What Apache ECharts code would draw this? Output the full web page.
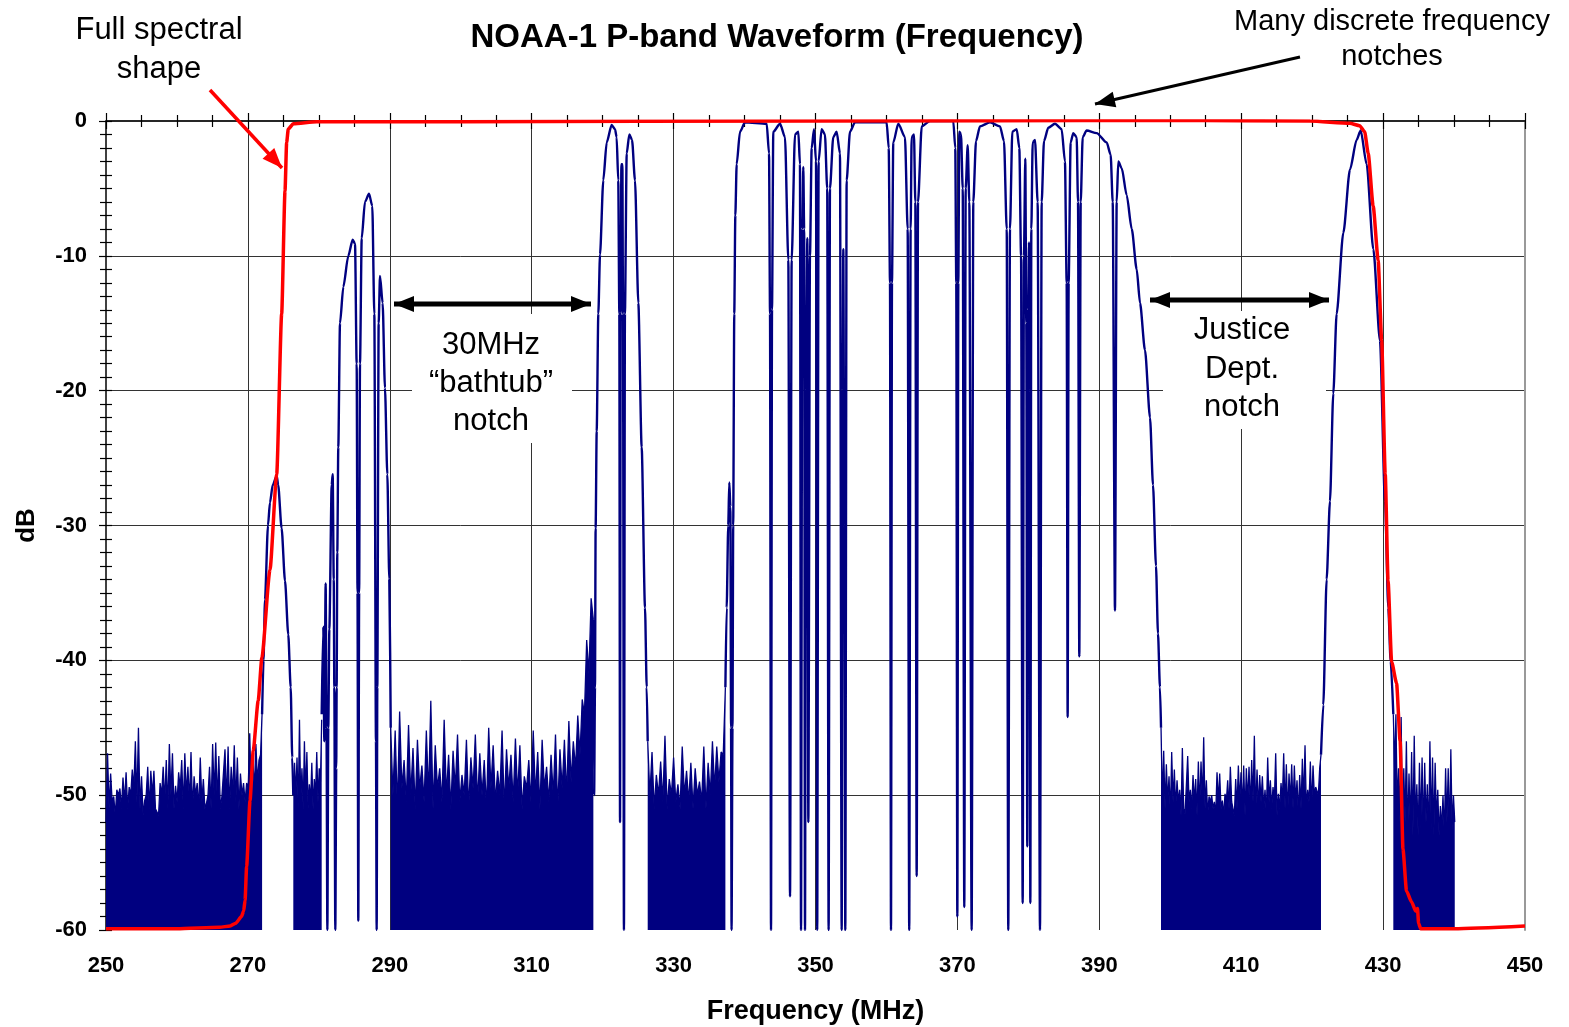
<!DOCTYPE html>
<html>
<head>
<meta charset="utf-8">
<title>NOAA-1 P-band Waveform (Frequency)</title>
<script src="https://cdn.jsdelivr.net/npm/echarts@6/dist/echarts.min.js"></script>
<style>
  html, body { margin: 0; padding: 0; background: #fff; }
  #chart { width: 1569px; height: 1027px; }
</style>
</head>
<body>
<div id="chart"></div>
<script>
// --- data: frequency in MHz, level in dB ---

// noise floor bands: [start, end] MHz and the envelope levels across each band
const band1 = [250.0, 272.0];
const noise1 = [-52, -46.9, -51, -48.4, -50.5, -50.1, -51.5, -49.6, -50, -49.5, -51, -48.7, -50.5, -48.3, -51, -49.4,
  -50, -48.1, -49.5, -46.0, -50.5, -45.0, -51, -48.6, -51.5, -50.4, -50, -47.9, -51, -48.2, -50, -48.2, -51, -51.1,
  -51.5, -49.1, -50, -47.9, -50.5, -47.4, -51, -46.2, -50, -46.9, -51, -49.3, -50.5, -48.3, -49.5, -47.4, -51, -46.9,
  -50, -47.9, -50.5, -46.8, -51, -48.6, -50, -49.1, -51, -47.2, -50.5, -48.8, -51, -50.6, -50, -47.9, -51, -46.2, -50,
  -46.1, -50.5, -47.1, -51, -50.1, -50, -46.6, -50.5, -46.4, -51, -47.9, -50, -46.3, -50.5, -47.2, -51, -48.4, -50,
  -49.1, -50.5, -49.1, -49.5, -45.4, -50, -47.4, -49.5, -46.2, -49, -47.4, -47, -43.9];

const band2 = [276.4, 280.4];
const noise2 = [-50, -47.6, -50, -47.2, -51, -44.4, -50.5, -48, -51, -46, -50, -46.8, -51, -49.2, -50.5, -47.6, -51,
  -48.8, -50, -46.8, -50.5, -48, -49, -44.4];

const band3 = [290.13, 318.69];
const noise3 = [-45, -50, -45.2, -51, -43.8, -49.5, -47.4, -50.5, -44.8, -50, -46.5, -51, -45.9, -49.5, -47.8, -50.5,
  -45.2, -50, -43.0, -51, -46.3, -49.5, -48.0, -50.5, -44.4, -50, -47.0, -51, -46.7, -49.5, -45.5, -50.5, -48.5, -50,
  -45.9, -51, -47.2, -49.5, -45.5, -50.5, -46.9, -50, -47.4, -51, -45.0, -49.5, -46.3, -50.5, -48.2, -50, -45.2, -51,
  -46.6, -49.5, -47.0, -50.5, -45.8, -50, -46.3, -51, -48.6, -49.5, -47.4, -50.5, -45.2, -50, -46.8, -51, -45.9, -49.5,
  -47.9, -50.5, -47.0, -50, -45.5, -51, -46.6, -49.5, -45.9, -50, -44.5, -49, -46.0, -48, -44.1, -47, -42.9, -44,
  -38.5, -41, -35.4, -37];

const band4 = [326.35, 337.3];
const noise4 = [-46, -50, -46.8, -51, -48.5, -50, -47.5, -50.5, -45.6, -51, -48.8, -50, -47.2, -50.5, -49.2, -51,
  -46.4, -50, -48.2, -50.5, -47.6, -51, -48.0, -50, -49.0, -50.5, -46.4, -51, -47.6, -50, -46.0, -49.5, -46.4, -49,
  -46.8, -47, -42];

const band5 = [398.7, 421.25];
const noise5 = [-45, -50.5, -46.7, -51, -47.7, -50.5, -48.6, -51.5, -46.8, -50.5, -48.1, -51, -48.9, -50.5, -49.6,
  -51.5, -46.5, -51, -51.4, -51.5, -47.1, -50.5, -49.6, -51, -48.5, -50.5, -48.8, -51.5, -47.5, -51, -47.5, -50.5,
  -45.7, -51, -48.9, -51.5, -50.1, -50.5, -50.0, -51, -50.5, -51.5, -48.3, -50.5, -48.4, -51, -50.4, -51.5, -49.9,
  -50.5, -48.9, -51, -47.9, -50.5, -50.4, -51.5, -48.8, -51, -47.8, -50.5, -48.3, -51, -47.8, -51.5, -48.0, -50.5,
  -47.9, -51, -47.4, -50.5, -45.6, -51.5, -48.1, -51, -48.5, -50.5, -48.6, -51, -49.6, -51.5, -47.2, -50.5, -48.9,
  -51, -49.4, -50.5, -46.9, -51.5, -49.9, -51, -49.1, -50.5, -46.9, -51, -47.7, -51.5, -48.4, -50.5, -47.7, -51,
  -47.8, -50.5, -48.9, -51.5, -48.5, -51, -47.3, -50.5, -46.3, -51, -49.6, -50.5, -47.5, -51, -47.8, -50, -49.4,
  -49.5, -50.0, -48, -47];

const band6 = [431.44, 440.1];
const noise6 = [-44, -48, -44.0, -51, -48.0, -52, -44.2, -53, -48.0, -52, -46.0, -53, -48.4, -52.5, -46.8, -53, -45.6,
  -52, -49.2, -53, -47.6, -52.5, -47.2, -53, -47.6, -52, -49.2, -53, -46.0, -52.5, -47.2, -53, -47.6, -52, -49.6,
  -53, -50.8, -52.5, -50.0, -53, -48.0, -52, -48.0, -53, -46.6, -52.5, -50.0, -52];

// signal lobes between the noise bands: [MHz, dB]
const lobeA = [[272.0, -44], [272.2, -40], [272.41, -35.5], [272.83, -30], [273.11, -28.3], [273.5, -27],
  [274.06, -26.3], [274.27, -27], [274.75, -30.2], [275.23, -34.1], [275.69, -38.1], [276.03, -42], [276.25, -47.2],
  [276.4, -50]];

const lobeB = [[280.4, -44], [280.63, -37.5], [280.77, -46], [280.96, -34.3], [281.08, -45], [281.2, -60],
  [281.33, -45], [281.48, -37.7], [281.81, -27], [281.95, -26.2], [282.1, -34], [282.18, -42], [282.32, -60],
  [282.45, -48], [282.51, -42], [282.6, -32], [282.74, -24.2], [282.98, -15], [283.45, -12.3], [284.15, -10],
  [284.77, -8.8], [285.1, -9.1], [285.33, -18], [285.45, -35], [285.56, -59.3], [285.68, -35], [285.8, -18],
  [286.04, -8.7], [286.5, -6], [287.07, -5.4], [287.53, -6.3], [287.82, -14.3], [288.05, -46], [288.15, -60],
  [288.24, -42], [288.43, -15], [288.62, -11.5], [288.99, -13.5], [289.32, -19.8], [289.65, -26.2], [289.93, -34],
  [290.13, -45]];

const lobeC = [[318.69, -37], [318.8, -50], [318.92, -42], [319.01, -30.2], [319.16, -23], [319.39, -14.3],
  [319.63, -9.9], [320.09, -4.4], [320.57, -1.6], [321.27, -0.3], [321.74, -0.6], [321.97, -1.2], [322.2, -4.4],
  [322.35, -14.3], [322.45, -52], [322.54, -14.3], [322.64, -3.2], [322.78, -3.2], [322.87, -14.3], [323.0, -60],
  [323.14, -14.3], [323.39, -2.4], [323.76, -1.0], [324.14, -1.4], [324.56, -4.4], [325.03, -13.5], [325.5, -24.2],
  [325.97, -36.1], [326.21, -42], [326.35, -46]];

const lobeD = [[337.3, -42], [337.48, -36.1], [337.7, -30], [337.85, -26.8], [338.0, -28.6], [338.1, -45],
  [338.17, -60], [338.3, -45], [338.4, -30], [338.55, -14.3], [338.7, -7], [338.89, -3.2], [339.36, -0.8],
  [340.06, -0.1], [343.12, -0.2], [343.45, -2.4], [343.59, -14.3], [343.73, -60], [343.87, -14], [344.05, -0.8],
  [345.0, -0.2], [345.7, -1.2], [346.17, -10.3], [346.41, -57.5], [346.64, -10.3], [347.11, -1], [347.58, -0.8],
  [347.81, -3.2], [347.96, -60], [348.14, -8], [348.28, -3.4], [348.4, -8], [348.52, -60], [348.66, -20],
  [348.85, -8.7], [348.99, -52], [349.22, -10], [349.46, -2], [349.79, -0.6], [350.07, -3], [350.24, -60],
  [350.44, -3], [350.86, -0.6], [351.33, -1.0], [351.65, -5], [351.85, -60], [352.04, -5], [352.5, -1.2],
  [352.98, -0.8], [353.45, -2.4], [353.69, -60], [353.83, -20], [353.92, -9.5], [354.06, -30], [354.2, -60],
  [354.39, -4.4], [354.86, -0.8], [355.57, -0.1], [360.03, -0.1], [360.32, -2], [360.5, -12], [360.64, -60],
  [360.78, -12], [360.96, -1.6], [361.67, -0.2], [362.61, -1.2], [362.99, -8], [363.21, -60], [363.41, -8],
  [363.55, -1.2], [363.88, -1], [364.07, -6], [364.26, -56], [364.45, -6], [364.97, -0.4], [366.14, 0], [369.42, 0],
  [369.7, -2], [369.84, -12], [369.99, -59], [370.13, -12], [370.27, -0.8], [370.51, -1.0], [370.75, -5],
  [370.97, -58.3], [371.17, -5], [371.45, -1.8], [371.68, -6], [372.01, -60], [372.24, -6], [372.62, -1.5],
  [373.18, -0.4], [374.59, -0.1], [376.0, -0.4], [376.57, -1.5], [376.95, -8], [377.17, -60], [377.41, -8],
  [377.74, -0.8], [378.36, -0.6], [378.73, -2], [378.97, -10], [379.2, -58], [379.38, -10], [379.57, -2.8],
  [379.71, -15], [379.85, -53.8], [379.99, -14], [380.09, -9], [380.18, -20], [380.28, -58], [380.42, -8],
  [380.61, -1.6], [380.94, -1.4], [381.31, -6], [381.64, -60], [381.88, -6], [382.2, -1.5], [382.81, -0.5],
  [383.75, -0.2], [384.69, -0.6], [385.16, -3], [385.4, -12], [385.54, -44.2], [385.68, -12], [385.96, -1.6],
  [386.33, -0.9], [386.81, -1.2], [387.0, -6], [387.18, -39.7], [387.38, -6], [387.66, -1.2], [388.22, -0.7],
  [389.63, -0.9], [391.04, -1.6], [391.6, -2.5], [391.89, -6], [392.21, -36.3], [392.45, -6], [392.68, -3.0],
  [393.16, -3.5], [393.86, -5.5], [394.57, -8], [395.27, -11], [395.74, -13.5], [396.44, -17], [397.15, -22],
  [397.57, -27], [397.99, -33], [398.27, -38], [398.55, -42], [398.7, -45]];

const lobeE = [[421.25, -47], [421.57, -43.3], [422.04, -34], [422.51, -28.2], [422.98, -20.2], [423.45, -14.3],
  [424.39, -8.3], [425.33, -3.6], [426.27, -1.4], [426.84, -0.7], [427.68, -3.2], [428.62, -9.5], [429.56, -16.3],
  [430.27, -28.2], [430.73, -36.1], [431.07, -40.1], [431.44, -44]];

// full spectral shape (red)
const spectralShape = [[250, -59.9], [260, -59.9], [266, -59.8], [267.5, -59.7], [268.3, -59.5], [269.1, -59.0],
  [269.4, -58.6], [269.6, -57.8], [269.82, -55.3], [270.3, -50.4], [270.75, -46.7], [271.45, -43], [271.97, -39.8],
  [273.11, -33.3], [274.06, -26.2], [274.76, -14.3], [275.23, -5.2], [275.46, -1.6], [275.69, -0.6], [276.4, -0.2],
  [279.7, -0.05], [300, -0.05], [350, 0], [400, 0.05], [419.7, 0], [425.3, -0.17], [426.7, -0.35], [427.4, -0.8],
  [427.9, -2.4], [428.6, -6.3], [429.3, -10.3], [429.8, -16.3], [430.3, -26.2], [430.7, -34.1], [431.2, -40.1],
  [431.9, -41.7], [432.4, -46], [432.8, -54], [433.3, -57.1], [434.0, -57.9], [434.6, -58.6], [434.85, -58.4],
  [435.0, -59.5], [435.3, -59.9], [440, -59.9], [450, -59.7]];

const FONT = '"Liberation Sans", Arial, sans-serif';
const NAVY = '#000080';

function bandPoints(range, values) {
  const step = (range[1] - range[0]) / (values.length - 1);
  return values.map((v, i) => [range[0] + i * step, v]);
}

function trace(data) {
  return {
    type: 'line', data: data, symbol: 'none', showSymbol: false, animation: false, z: 2,
    smooth: 0.25, smoothMonotone: 'x',
    lineStyle: { color: NAVY, width: 2.4 }
  };
}

function noise(range, values) {
  const s = trace(bandPoints(range, values));
  s.smooth = false;
  s.lineStyle = { color: NAVY, width: 1.3 };
  s.areaStyle = { color: NAVY, opacity: 1, origin: 'start' };
  return s;
}

// annotation arrows, pixel coords
function arrowHead(tx, ty, fx, fy, len, half, color) {
  const a = Math.atan2(ty - fy, tx - fx);
  const bx = tx - len * Math.cos(a), by = ty - len * Math.sin(a);
  const nx = -Math.sin(a) * half, ny = Math.cos(a) * half;
  return {
    type: 'polygon', z: 4,
    shape: { points: [[tx, ty], [bx + nx, by + ny], [bx - nx, by - ny]] },
    style: { fill: color }
  };
}

function arrow(x1, y1, x2, y2, width, color, both) {
  const els = [{
    type: 'line', z: 4,
    shape: { x1: x1, y1: y1, x2: x2, y2: y2 },
    style: { stroke: color, lineWidth: width }
  }, arrowHead(x2, y2, x1, y1, 20, 8, color)];
  if (both) els.push(arrowHead(x1, y1, x2, y2, 20, 8, color));
  return els;
}

function note(x, y, text, size, lh) {
  return {
    type: 'text', z: 5, x: x, y: y,
    style: { text: text, font: size + 'px ' + FONT, fill: '#000', align: 'center', verticalAlign: 'middle', lineHeight: lh }
  };
}

const chart = echarts.init(document.getElementById('chart'));

const tickStyle = { color: '#000', width: 1.2 };

chart.setOption({
  backgroundColor: '#fff',
  animation: false,
  title: {
    text: 'NOAA-1 P-band Waveform (Frequency)',
    left: 772, top: 16, textAlign: 'center',
    textStyle: { fontFamily: FONT, fontSize: 33, fontWeight: 'bold', color: '#000' }
  },
  grid: { left: 106, right: 44, top: 121, bottom: 97, containLabel: false, outerBoundsMode: 'none' },
  xAxis: [
    {
      type: 'value', position: 'bottom', min: 250, max: 450, interval: 20,
      name: 'Frequency (MHz)', nameLocation: 'middle', nameGap: 68,
      nameTextStyle: { fontFamily: FONT, fontSize: 27, fontWeight: 'bold', color: '#000' },
      axisLine: { show: true, lineStyle: { color: '#999', width: 2 } },
      axisTick: { show: false },
      axisLabel: { margin: 25, fontFamily: FONT, fontSize: 22, fontWeight: 'bold', color: '#000' },
      splitLine: { show: true, showMinLine: false, showMaxLine: false, lineStyle: { color: '#333', width: 1 } }
    },
    {
      type: 'value', position: 'top', min: 250, max: 450, interval: 20,
      axisLine: { show: true, onZero: false, lineStyle: { color: '#000', width: 1.5 } },
      axisTick: { show: true, inside: true, length: 8, lineStyle: tickStyle },
      minorTick: { show: true, splitNumber: 4, length: 6, lineStyle: tickStyle },
      axisLabel: { show: false }, splitLine: { show: false }
    },
    {
      type: 'value', position: 'top', min: 250, max: 450, interval: 20,
      axisLine: { show: false },
      axisTick: { show: true, inside: false, length: 8, lineStyle: tickStyle },
      minorTick: { show: true, splitNumber: 4, length: 6, lineStyle: tickStyle },
      axisLabel: { show: false }, splitLine: { show: false }
    }
  ],
  yAxis: [
    {
      type: 'value', position: 'left', min: -60, max: 0, interval: 10,
      name: 'dB', nameLocation: 'middle', nameGap: 66, nameRotate: 90,
      nameTextStyle: { fontFamily: FONT, fontSize: 26, fontWeight: 'bold', color: '#000' },
      axisLine: { show: true, onZero: false, lineStyle: { color: '#000', width: 1.5 } },
      axisTick: { show: true, inside: false, length: 7, lineStyle: tickStyle },
      minorTick: { show: true, splitNumber: 10, length: 6, lineStyle: tickStyle },
      axisLabel: { margin: 19, fontFamily: FONT, fontSize: 22, fontWeight: 'bold', color: '#000' },
      splitLine: { show: true, showMinLine: false, showMaxLine: false, lineStyle: { color: '#333', width: 1 } }
    },
    {
      type: 'value', position: 'left', min: -60, max: 0, interval: 10,
      axisLine: { show: false },
      axisTick: { show: true, inside: true, length: 6, lineStyle: tickStyle },
      minorTick: { show: true, splitNumber: 10, length: 6, lineStyle: tickStyle },
      axisLabel: { show: false }, splitLine: { show: false }
    },
    {
      type: 'value', position: 'right', min: -60, max: 0, interval: 10,
      axisLine: { show: true, onZero: false, lineStyle: { color: '#999', width: 2 } },
      axisTick: { show: false }, axisLabel: { show: false }, splitLine: { show: false }
    }
  ],
  series: [
    noise(band1, noise1), trace(lobeA),
    noise(band2, noise2), trace(lobeB),
    noise(band3, noise3), trace(lobeC),
    noise(band4, noise4), trace(lobeD),
    noise(band5, noise5), trace(lobeE),
    noise(band6, noise6),
    {
      type: 'line', data: spectralShape, symbol: 'none', showSymbol: false, z: 3,
      smooth: 0.2, smoothMonotone: 'x',
      lineStyle: { color: '#ff0000', width: 3.5 }
    }
  ],
  graphic: [
    { type: 'rect', z: 1, shape: { x: 412, y: 314, width: 160, height: 129 }, style: { fill: '#fff' } },
    { type: 'rect', z: 1, shape: { x: 1163, y: 311, width: 163, height: 118 }, style: { fill: '#fff' } },
    note(159, 50, 'Full spectral\nshape', 31, 39),
    note(1392, 39, 'Many discrete frequency\nnotches', 29, 35),
    note(491, 383, '30MHz\n\u201cbathtub\u201d\nnotch', 31, 38),
    note(1242, 369, 'Justice\nDept.\nnotch', 31, 38.5),
    ...arrow(210, 90, 282, 168, 3.5, '#ff0000', false),
    ...arrow(1300, 57, 1095, 104, 3, '#000', false),
    ...arrow(394, 304, 591, 304, 5, '#000', true),
    ...arrow(1150, 300, 1329, 300, 5, '#000', true)
  ]
});
</script>
</body>
</html>
